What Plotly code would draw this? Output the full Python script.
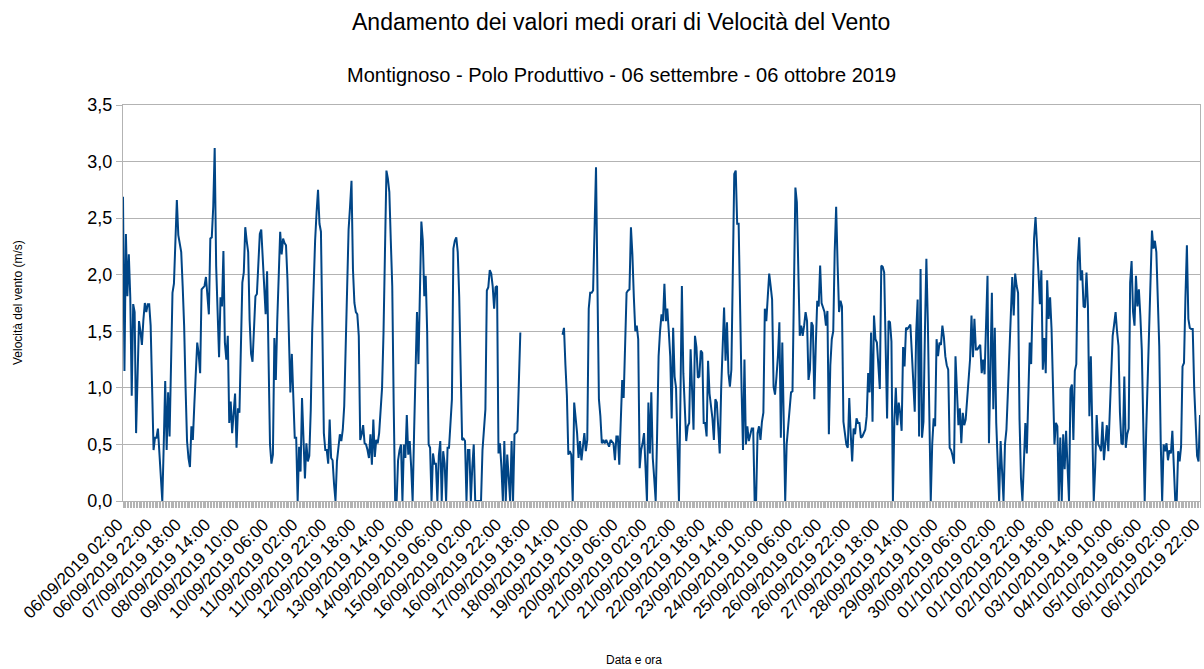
import plotly.graph_objects as go

# Hourly mean wind speed (m/s), starting 06/09/2019 02:00, one value per hour
velocita = [
    2.69, 1.15, 2.36, 1.81, 2.18, 1.8, 0.93, 1.74, 1.67, 0.60,
    1.1, 1.59, 1.5, 1.38, 1.6, 1.75, 1.67, 1.74, 1.74, 1.55,
    1.0, 0.45, 0.56, 0.56, 0.64, 0.4, 0.15, 0.0, 0.5, 1.06,
    0.45, 0.96, 0.57, 1.2, 1.84, 1.92, 2.3, 2.66, 2.35, 2.28,
    2.2, 1.9, 1.55, 1.0, 0.53, 0.38, 0.30, 0.66, 0.54, 0.85,
    1.15, 1.40, 1.3, 1.13, 1.87, 1.89, 1.90, 1.98, 1.8, 1.65,
    2.32, 2.33, 2.6, 3.12, 2.08, 1.7, 1.27, 1.80, 1.72, 2.21,
    1.4, 1.25, 1.46, 0.69, 0.88, 0.60, 0.8, 0.95, 0.47, 0.82,
    0.78, 1.4, 1.93, 2.02, 2.42, 2.3, 2.2, 1.6, 1.3, 1.23,
    1.6, 1.81, 1.83, 2.1, 2.36, 2.40, 2.1, 1.8, 1.65, 2.03,
    1.13, 0.5, 0.33, 0.41, 1.44, 1.07, 1.6, 1.96, 2.38, 2.18,
    2.32, 2.28, 2.26, 1.96, 1.4, 0.96, 1.30, 1.0, 0.56, 0.56,
    0.0, 0.48, 0.26, 0.91, 0.5, 0.2, 0.51, 0.35, 0.4, 0.8,
    1.5, 2.0, 2.3, 2.55, 2.75, 2.45, 2.38, 1.5, 0.6, 0.45,
    0.45, 0.33, 0.72, 0.38, 0.36, 0.15, 0.0, 0.35, 0.51, 0.59,
    0.53, 0.63, 0.84, 1.3, 1.96, 2.4, 2.6, 2.83, 2.05, 1.75,
    1.67, 1.65, 1.46, 0.54, 0.59, 0.67, 0.51, 0.5, 0.45, 0.38,
    0.59, 0.32, 0.72, 0.39, 0.54, 0.51, 0.6, 0.76, 1.0, 1.49,
    2.2, 2.92, 2.85, 2.73, 2.3, 1.9, 0.84, 0.0, 0.0, 0.36,
    0.45, 0.50, 0.0, 0.5, 0.38, 0.76, 0.41, 0.53, 0.3, 0.0,
    0.6, 1.2, 1.67, 1.21, 1.8, 2.47, 2.3, 1.81, 1.99, 1.49,
    0.5, 0.47, 0.0, 0.42, 0.33, 0.33, 0.0, 0.4, 0.53, 0.0,
    0.44, 0.33, 0.0, 0.47, 0.47, 0.7, 0.9, 2.23, 2.3, 2.33,
    2.2, 1.81, 1.2, 0.54, 0.55, 0.53, 0.0, 0.45, 0.45, 0.0,
    0.3, 0.5, 0.0, 0.0, 0.0, 0.0, 0.0, 0.45, 0.6, 0.81,
    1.86, 1.89, 2.04, 2.01, 1.9, 1.70, 1.89, 1.9, 0.42, 0.51,
    0.3, 0.0, 0.53, 0.0, 0.41, 0.2, 0.0, 0.53, 0.0, 0.59,
    0.60, 0.62, 1.13, 1.49, None, None, None, None, None, None,
    None, None, None, None, None, None, None, None, None, None,
    None, None, None, None, None, None, None, None, None, None,
    None, None, 1.47, 1.53, 1.2, 0.93, 0.41, 0.44, 0.41, 0.0,
    0.87, 0.75, 0.6, 0.38, 0.53, 0.36, 0.5, 0.60, 0.44, 0.54,
    1.70, 1.84, 1.84, 1.86, 2.4, 2.95, 1.9, 0.90, 0.75, 0.51,
    0.54, 0.51, 0.54, 0.50, 0.48, 0.54, 0.52, 0.51, 0.36, 0.57,
    0.57, 0.32, 0.7, 1.07, 0.91, 1.46, 1.84, 1.86, 1.87, 2.42,
    2.18, 1.8, 1.50, 1.55, 1.43, 0.29, 0.45, 0.51, 0.60, 0.3,
    0.0, 0.87, 0.42, 0.96, 0.38, 0.2, 0.0, 0.6, 1.28, 1.5,
    1.65, 1.59, 1.92, 1.59, 1.70, 1.5, 1.28, 0.73, 1.53, 1.1,
    1.0, 0.5, 0.0, 0.9, 1.9, 1.13, 0.8, 0.53, 0.66, 0.69,
    1.34, 0.9, 0.63, 1.46, 1.36, 1.09, 1.10, 1.33, 1.31, 0.69,
    0.69, 0.57, 1.24, 0.95, 0.84, 0.73, 0.54, 0.90, 0.87, 0.6,
    0.42, 0.99, 1.4, 1.71, 1.24, 1.58, 1.13, 1.01, 1.16, 2.1,
    2.89, 2.92, 2.45, 2.45, 1.6, 1.0, 0.45, 1.25, 0.50, 0.66,
    0.53, 0.60, 0.64, 0.64, 0.0, 0.0, 0.60, 0.66, 0.54, 0.7,
    0.78, 1.70, 1.59, 1.8, 2.01, 1.9, 1.78, 1.01, 0.94, 1.1,
    1.28, 1.58, 0.56, 1.40, 0.5, 0.0, 0.5, 0.67, 0.8, 0.96,
    0.97, 2.11, 2.77, 2.64, 1.9, 1.46, 1.55, 1.46, 1.55, 1.67,
    1.59, 1.07, 1.16, 1.58, 1.55, 0.90, 1.37, 1.77, 1.72, 2.08,
    1.75, 1.70, 1.67, 1.55, 1.68, 0.59, 1.2, 1.43, 1.50, 2.2,
    2.60, 2.09, 1.67, 1.77, 1.72, 0.7, 0.60, 0.50, 0.47, 0.91,
    0.60, 0.35, 0.64, 0.59, 0.73, 0.69, 0.69, 0.56, 0.57, 0.6,
    0.63, 0.75, 1.13, 0.96, 1.49, 0.70, 1.64, 1.43, 1.40, 1.2,
    0.99, 2.08, 2.07, 2.02, 1.2, 0.73, 1.59, 1.58, 1.41, 0.0,
    0.7, 1.0, 0.67, 0.87, 0.78, 0.62, 1.36, 1.19, 1.53, 1.52,
    1.54, 1.56, 1.31, 1.0, 0.79, 1.49, 1.78, 0.57, 2.05, 0.56,
    0.70, 1.5, 2.14, 1.58, 0.66, 0.0, 0.5, 0.73, 0.66, 1.43,
    1.28, 1.40, 1.38, 1.55, 1.45, 1.28, 1.2, 1.16, 0.47, 0.45,
    0.40, 0.33, 1.28, 0.9, 0.67, 0.82, 0.51, 0.78, 0.67, 0.72,
    0.9, 1.1, 1.25, 1.64, 1.27, 1.61, 1.34, 1.34, 1.36, 1.38,
    1.13, 1.25, 1.12, 1.5, 1.99, 0.51, 1.3, 1.84, 0.81, 1.53,
    0.69, 0.4, 0.0, 0.53, 0.28, 0.0, 0.5, 0.63, 0.96, 1.3,
    1.61, 1.98, 1.64, 2.01, 1.9, 1.84, 0.72, 0.2, 0.0, 0.42,
    0.69, 0.42, 1.0, 1.40, 1.21, 1.87, 2.32, 2.51, 2.3, 2.02,
    1.74, 2.04, 1.16, 1.44, 1.13, 1.95, 1.61, 1.80, 1.52, 0.9,
    0.50, 0.69, 0.66, 0.0, 0.56, 0.0, 0.59, 0.28, 0.62, 0.3,
    0.0, 0.99, 1.03, 0.54, 1.15, 1.21, 2.11, 2.33, 1.95, 2.04,
    1.72, 1.71, 2.02, 1.72, 0.75, 1.28, 0.7, 0.0, 0.3, 0.76,
    0.5, 0.48, 0.44, 0.70, 0.36, 0.5, 0.67, 0.44, 0.8, 1.1,
    1.46, 1.56, 1.67, 1.5, 1.37, 0.78, 0.51, 0.5, 1.10, 0.47,
    0.59, 0.64, 1.93, 2.12, 1.67, 1.55, 1.99, 1.72, 1.87, 1.64,
    1.34, 0.69, 0.0, 0.6, 1.01, 1.5, 1.99, 2.39, 2.23, 2.30,
    2.20, 1.8, 1.37, 0.53, 0.0, 0.5, 0.44, 0.51, 0.36, 0.45,
    0.42, 0.62, 0.3, 0.0, 0.0, 0.44, 0.35, 0.48, 1.19, 1.22,
    1.8, 2.26, 1.61, 1.53, 1.52, 1.52, 1.0, 0.66, 0.4, 0.35,
    0.76,
]

ore = list(range(len(velocita)))  # hour index since 06/09/2019 02:00

tick_ore = list(range(0, 741, 20))
tick_labels = [
    "06/09/2019 02:00", "06/09/2019 22:00", "07/09/2019 18:00", "08/09/2019 14:00",
    "09/09/2019 10:00", "10/09/2019 06:00", "11/09/2019 02:00", "11/09/2019 22:00",
    "12/09/2019 18:00", "13/09/2019 14:00", "14/09/2019 10:00", "15/09/2019 06:00",
    "16/09/2019 02:00", "16/09/2019 22:00", "17/09/2019 18:00", "18/09/2019 14:00",
    "19/09/2019 10:00", "20/09/2019 06:00", "21/09/2019 02:00", "21/09/2019 22:00",
    "22/09/2019 18:00", "23/09/2019 14:00", "24/09/2019 10:00", "25/09/2019 06:00",
    "26/09/2019 02:00", "26/09/2019 22:00", "27/09/2019 18:00", "28/09/2019 14:00",
    "29/09/2019 10:00", "30/09/2019 06:00", "01/10/2019 02:00", "01/10/2019 22:00",
    "02/10/2019 18:00", "03/10/2019 14:00", "04/10/2019 10:00", "05/10/2019 06:00",
    "06/10/2019 02:00", "06/10/2019 22:00",
]

y_ticks = [0, 0.5, 1.0, 1.5, 2.0, 2.5, 3.0, 3.5]

FONT = "Liberation Sans, Arial, sans-serif"
GRID = "#b3b3b3"

fig = go.Figure()
fig.add_trace(go.Scatter(
    x=ore, y=velocita, mode="lines",
    line=dict(color="#004586", width=2),
    connectgaps=False, showlegend=False,
))

fig.update_layout(
    width=1204, height=669,
    margin=dict(l=123, r=4, t=105, b=168, autoexpand=False),
    paper_bgcolor="white", plot_bgcolor="white",
    font=dict(family=FONT, color="black"),
    separators=",.",
    annotations=[
        dict(text="Andamento dei valori medi orari di Velocità del Vento",
             xref="paper", yref="paper", x=0.4624, y=1, yshift=83,
             xanchor="center", yanchor="middle", showarrow=False,
             font=dict(size=23, family=FONT)),
        dict(text="Montignoso - Polo Produttivo - 06 settembre - 06 ottobre 2019",
             xref="paper", yref="paper", x=0.4624, y=1, yshift=30,
             xanchor="center", yanchor="middle", showarrow=False,
             font=dict(size=20, family=FONT)),
        dict(text="Data e ora", xref="paper", yref="paper",
             x=0.4745, y=0, yshift=-159, xanchor="center", yanchor="middle",
             showarrow=False, font=dict(size=12, family=FONT)),
        dict(text="Velocità del vento (m/s)", xref="paper", yref="paper",
             x=0, xshift=-105, y=0.5, xanchor="center", yanchor="middle",
             textangle=-90, showarrow=False, font=dict(size=12, family=FONT)),
    ],
)

fig.update_xaxes(
    range=[-0.001, 740.001], automargin=False,
    tickmode="array", tickvals=tick_ore, ticktext=tick_labels,
    tickangle=-45, tickfont=dict(size=17, family=FONT),
    ticklabeloverflow="allow", ticklabelshift=-5,
    ticks="outside", ticklen=6, tickcolor=GRID,
    minor=dict(dtick=1, ticks="outside", ticklen=6, tickcolor=GRID, showgrid=False),
    showgrid=False, zeroline=False,
    showline=True, linecolor=GRID, linewidth=1, mirror=True,
)
fig.update_yaxes(
    range=[0, 3.5], automargin=False,
    tickmode="array", tickvals=y_ticks, tickformat=".1f",
    tickfont=dict(size=18, family=FONT),
    ticks="outside", ticklen=6, tickcolor=GRID,
    showgrid=True, gridcolor=GRID, gridwidth=1, zeroline=False,
    showline=True, linecolor=GRID, linewidth=1, mirror=True,
)

fig.write_html(
    "out.html",
    config={"displayModeBar": False},
    post_script="document.body.style.margin='0';document.body.style.overflow='hidden';",
)
